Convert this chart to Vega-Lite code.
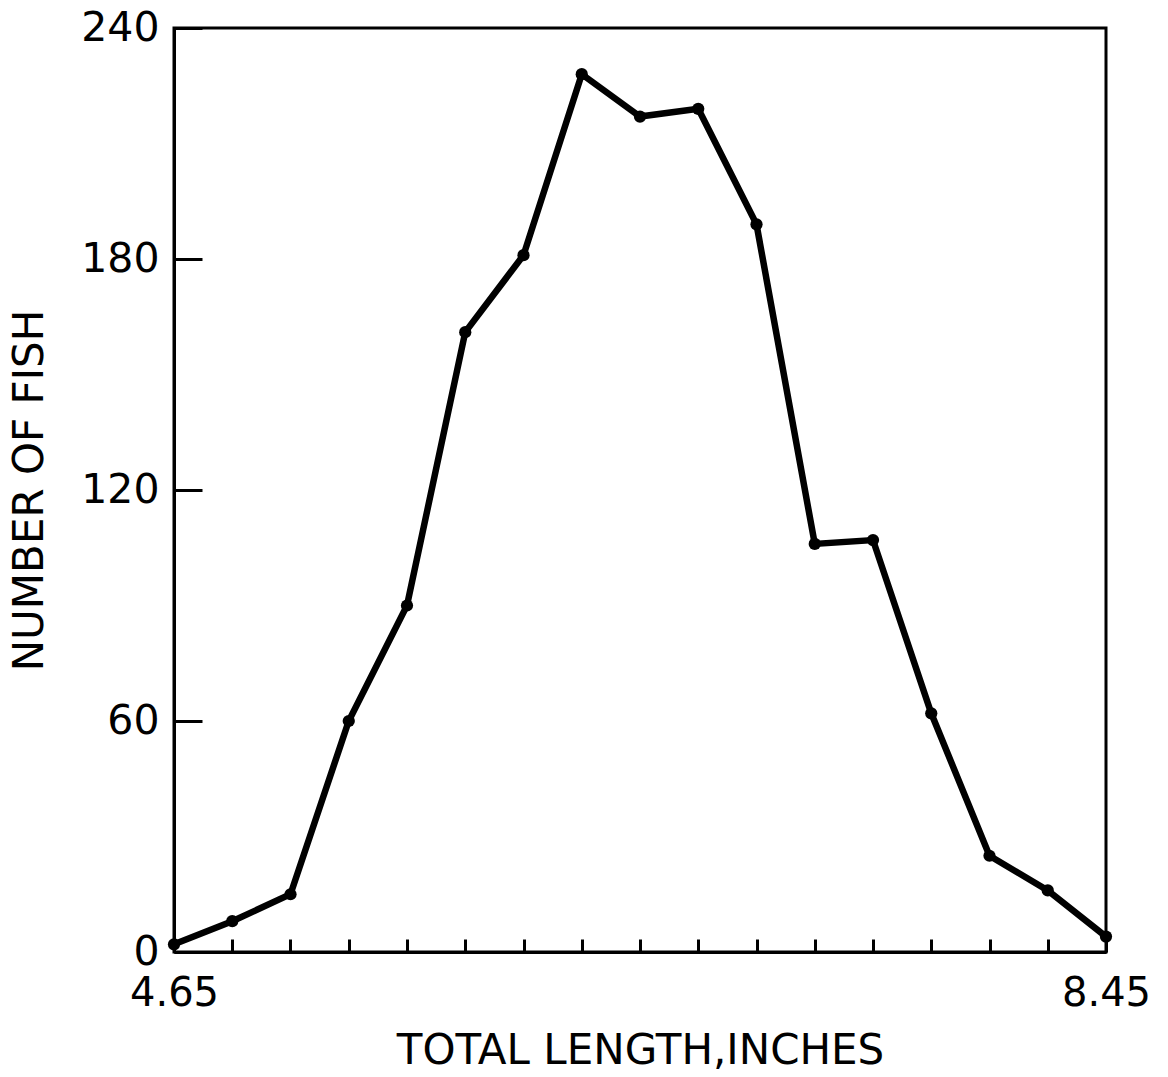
{
  "$schema": "https://vega.github.io/schema/vega-lite/v6.json",
  "autosize": "none",
  "width": 932,
  "height": 924,
  "padding": {"left": 174, "top": 28, "right": 62, "bottom": 125},
  "background": "white",
  "config": {
    "view": {"stroke": "black", "strokeWidth": 3},
    "font": "DejaVu Sans",
    "axis": {
      "domainColor": "black", "domainWidth": 3,
      "tickColor": "black", "tickWidth": 3,
      "labelColor": "black", "titleColor": "black",
      "labelFont": "DejaVu Sans", "titleFont": "DejaVu Sans",
      "titleFontWeight": "normal", "grid": false
    }
  },
  "data": {"values": [
    {"length": 4.65, "fish": 2},
    {"length": 4.8875, "fish": 8},
    {"length": 5.125, "fish": 15},
    {"length": 5.3625, "fish": 60},
    {"length": 5.6, "fish": 90},
    {"length": 5.8375, "fish": 161},
    {"length": 6.075, "fish": 181},
    {"length": 6.3125, "fish": 228},
    {"length": 6.55, "fish": 217},
    {"length": 6.7875, "fish": 219},
    {"length": 7.025, "fish": 189},
    {"length": 7.2625, "fish": 106},
    {"length": 7.5, "fish": 107},
    {"length": 7.7375, "fish": 62},
    {"length": 7.975, "fish": 25},
    {"length": 8.2125, "fish": 16},
    {"length": 8.45, "fish": 4}
  ]},
  "encoding": {
    "x": {
      "field": "length", "type": "quantitative",
      "scale": {"domain": [4.65, 8.45], "nice": false, "zero": false},
      "axis": {
        "title": "TOTAL LENGTH,INCHES",
        "values": [4.65, 4.8875, 5.125, 5.3625, 5.6, 5.8375, 6.075, 6.3125, 6.55, 6.7875, 7.025, 7.2625, 7.5, 7.7375, 7.975, 8.2125, 8.45],
        "format": ".2f",
        "labelExpr": "datum.index == 0 || datum.index == 1 ? datum.label : ''",
        "tickSize": -13,
        "labelFontSize": 40,
        "labelBaseline": "alphabetic",
        "labelPadding": 66,
        "labelFlush": false,
        "labelOverlap": false,
        "titleFontSize": 42,
        "titleX": 466,
        "titleY": 111,
        "titleBaseline": "alphabetic"
      }
    },
    "y": {
      "field": "fish", "type": "quantitative",
      "scale": {"domain": [0, 240], "nice": false},
      "axis": {
        "title": "NUMBER OF FISH",
        "values": [0, 60, 120, 180, 240],
        "tickSize": -28,
        "labelFontSize": 41,
        "labelPadding": 43,
        "labelBaseline": "middle",
        "labelFlush": false,
        "titleFontSize": 42,
        "titleX": -123,
        "titleY": 462,
        "titleAngle": -90,
        "titleBaseline": "bottom",
        "titleAlign": "center"
      }
    }
  },
  "layer": [
    {"mark": {"type": "line", "color": "black", "strokeWidth": 6.5}},
    {"mark": {"type": "point", "filled": true, "color": "black", "opacity": 1, "size": 150}}
  ]
}
